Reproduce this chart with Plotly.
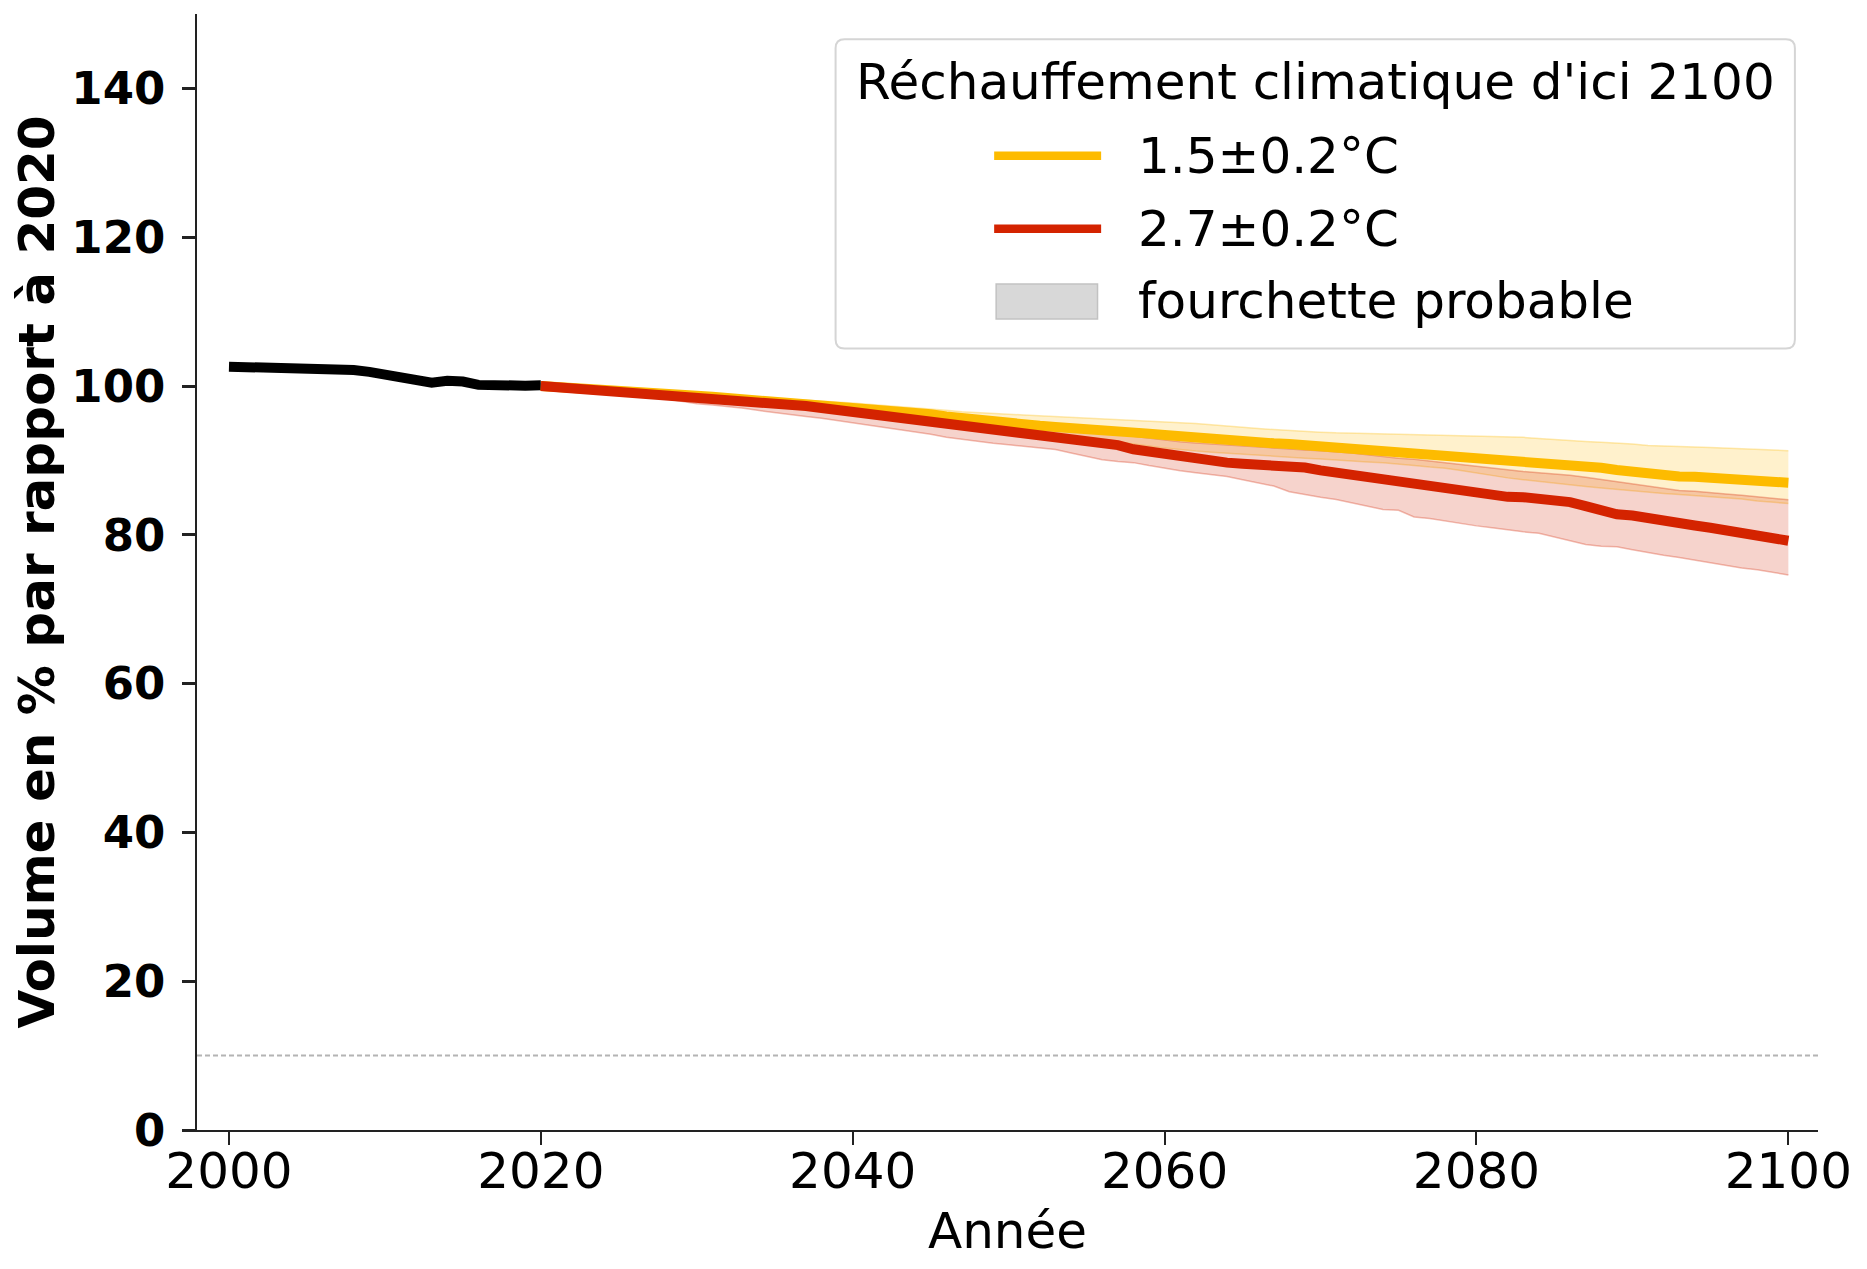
import plotly.graph_objects as go

# ---------------- data ----------------
hist_years = list(range(2000, 2021))
hist_vol = [102.6, 102.55, 102.5, 102.45, 102.35, 102.45, 102.4, 102.4, 102.15, 101.9,
            101.6, 101.35, 101.0, 100.45, 100.7, 100.6, 100.15, 100.05, 100.0, 100.05, 100.1]

proj_years = list(range(2020, 2101))

y15_med = [100.0, 99.9, 99.8, 99.7, 99.6, 99.45, 99.3, 99.15, 99.0, 98.85,
           98.7, 98.55, 98.4, 98.25, 98.1, 97.95, 97.8, 97.65, 97.5, 97.3,
           97.1, 96.95, 96.8, 96.6, 96.4, 96.2, 95.9, 95.65, 95.45, 95.2,
           95.0, 94.8, 94.65, 94.5, 94.4, 94.2, 93.95, 93.85, 93.75, 93.6,
           93.4, 93.2, 93.0, 92.85, 92.7, 92.55, 92.4, 92.3, 92.2, 92.05,
           91.95, 91.8, 91.55, 91.35, 91.15, 90.95, 90.8, 90.65, 90.5, 90.35,
           90.2, 90.05, 89.95, 89.8, 89.65, 89.5, 89.4, 89.2, 89.0, 88.7,
           88.45, 88.2, 88.0, 87.85, 87.8, 87.7, 87.6, 87.5, 87.35, 87.2, 87.0]

y15_low = [100.0, 99.85, 99.7, 99.6, 99.5, 99.3, 99.15, 98.95, 98.8, 98.65,
           98.5, 98.3, 98.15, 98.0, 97.85, 97.7, 97.55, 97.35, 97.15, 96.95,
           96.75, 96.55, 96.35, 96.15, 95.95, 95.7, 95.45, 95.2, 94.95, 94.7,
           94.45, 94.2, 93.85, 93.55, 93.3, 93.0, 92.7, 92.45, 92.2, 91.95,
           91.65, 91.4, 91.25, 91.1, 90.95, 90.8, 90.7, 90.55, 90.4, 90.3,
           90.2, 90.05, 89.95, 89.8, 89.7, 89.55, 89.3, 89.1, 88.95, 88.65,
           88.3, 87.95, 87.65, 87.4, 87.15, 86.95, 86.7, 86.5, 86.3, 86.1,
           85.9, 85.7, 85.55, 85.4, 85.25, 85.15, 84.95, 84.8, 84.55, 84.4, 84.2]

y15_up = [100.0, 99.95, 99.9, 99.8, 99.7, 99.6, 99.5, 99.35, 99.2, 99.1,
          99.0, 98.85, 98.7, 98.6, 98.5, 98.35, 98.2, 98.1, 98.0, 97.85,
          97.7, 97.55, 97.4, 97.25, 97.1, 96.95, 96.75, 96.55, 96.4, 96.3,
          96.2, 96.1, 96.0, 95.9, 95.8, 95.7, 95.6, 95.5, 95.4, 95.3,
          95.2, 95.1, 94.95, 94.8, 94.6, 94.45, 94.3, 94.15, 94.0, 93.9,
          93.8, 93.7, 93.65, 93.6, 93.55, 93.5, 93.45, 93.4, 93.3, 93.25,
          93.2, 93.2, 93.2, 93.1, 92.95, 92.8, 92.65, 92.55, 92.45, 92.35,
          92.2, 92.0, 91.9, 91.85, 91.8, 91.75, 91.65, 91.55, 91.45, 91.4, 91.3]

y27_med = [100.0, 99.85, 99.7, 99.6, 99.5, 99.3, 99.1, 98.9, 98.75, 98.6,
           98.4, 98.2, 98.05, 97.95, 97.8, 97.65, 97.5, 97.3, 97.05, 96.8,
           96.5, 96.3, 96.1, 95.85, 95.6, 95.3, 95.0, 94.75, 94.5, 94.1,
           93.8, 93.6, 93.35, 93.15, 92.9, 92.6, 92.35, 92.05, 91.5, 91.15,
           90.9, 90.65, 90.3, 89.95, 89.7, 89.55, 89.45, 89.4, 89.25, 89.05,
           88.65, 88.35, 88.0, 87.75, 87.55, 87.35, 87.1, 86.8, 86.4, 85.95,
           85.6, 85.3, 85.1, 85.05, 84.85, 84.65, 84.4, 83.85, 83.25, 82.75,
           82.6, 82.2, 81.8, 81.5, 81.25, 80.95, 80.6, 80.2, 79.6, 79.4, 79.2]

y27_low = [100.0, 99.8, 99.6, 99.45, 99.3, 99.1, 98.85, 98.6, 98.3, 97.9,
           97.6, 97.45, 97.25, 97.0, 96.7, 96.4, 96.1, 95.9, 95.65, 95.35,
           95.05, 94.8, 94.5, 94.2, 93.85, 93.5, 93.1, 92.8, 92.55, 92.3,
           92.1, 91.9, 91.65, 91.45, 91.0, 90.5, 90.1, 89.85, 89.7, 89.3,
           88.9, 88.6, 88.35, 88.1, 87.85, 87.4, 86.95, 86.55, 85.8, 85.4,
           85.05, 84.75, 84.3, 83.8, 83.4, 83.3, 82.4, 82.2, 81.85, 81.5,
           81.2, 80.95, 80.65, 80.4, 80.2, 79.7, 79.15, 78.7, 78.45, 78.4,
           78.0, 77.6, 77.25, 76.95, 76.6, 76.25, 75.85, 75.55, 75.3, 74.95, 74.6]

y27_up = [100.0, 99.9, 99.8, 99.7, 99.6, 99.45, 99.3, 99.15, 99.0, 98.85,
          98.7, 98.55, 98.4, 98.3, 98.15, 98.0, 97.85, 97.7, 97.5, 97.3,
          97.1, 96.95, 96.8, 96.65, 96.5, 96.35, 96.15, 95.95, 95.7, 95.45,
          95.2, 94.95, 94.7, 94.45, 94.2, 93.95, 93.7, 93.45, 93.2, 92.95,
          92.7, 92.5, 92.35, 92.2, 92.05, 91.9, 91.75, 91.65, 91.5, 91.4,
          91.3, 91.2, 91.0, 90.75, 90.5, 90.3, 90.15, 89.95, 89.7, 89.45,
          89.2, 88.95, 88.7, 88.5, 88.35, 88.2, 88.0, 87.75, 87.45, 87.1,
          86.8, 86.5, 86.2, 85.95, 85.85, 85.7, 85.5, 85.3, 85.1, 84.9, 84.7]

threshold = 10
y_ticks = [0, 20, 40, 60, 80, 100, 120, 140]
x_ticks = [2000, 2020, 2040, 2060, 2080, 2100]

legend_title = "Réchauffement climatique d'ici 2100"
legend_labels = ["1.5±0.2°C", "2.7±0.2°C", "fourchette probable"]

# ---------------- style ----------------
OFF = 8                      # default page margin around the plot div
W, H = 1867 - 2 * OFF, 1269 - 2 * OFF
ML, MR, MT, MB = 188.7, 41, 6, 130.7
YELLOW = "#FDBB00"
RED = "#D42300"
FONT = "DejaVu Sans"
LW = 10

fig = go.Figure()


def band(years, low, up, rgb):
    fig.add_trace(go.Scatter(x=years, y=low, mode="lines",
                             line=dict(color=f"rgba({rgb},0.3)", width=1.5),
                             showlegend=False, hoverinfo="skip"))
    fig.add_trace(go.Scatter(x=years, y=up, mode="lines", fill="tonexty",
                             fillcolor=f"rgba({rgb},0.2)",
                             line=dict(color=f"rgba({rgb},0.3)", width=1.5),
                             showlegend=False, hoverinfo="skip"))


band(proj_years, y15_low, y15_up, "253,187,0")
band(proj_years, y27_low, y27_up, "212,35,0")

fig.add_trace(go.Scatter(x=hist_years, y=hist_vol, mode="lines",
                         line=dict(color="black", width=LW), showlegend=False))
fig.add_trace(go.Scatter(x=proj_years, y=y15_med, mode="lines",
                         line=dict(color=YELLOW, width=LW), name=legend_labels[0],
                         showlegend=False))
fig.add_trace(go.Scatter(x=proj_years, y=y27_med, mode="lines",
                         line=dict(color=RED, width=LW), name=legend_labels[1],
                         showlegend=False))

fig.add_hline(y=threshold, line=dict(color="#B4B4B4", width=2, dash="5px,3px"))

# ---------------- manual legend (page pixel layout -> paper) ----------------
PW = W - ML - MR
PH = H - MT - MB


def px(x):
    return (x - OFF - ML) / PW


def py(y):
    return (H - MB - (y - OFF)) / PH


bx0, bx1, by0, by1, r = 835.4, 1794.9, 39.3, 348.7, 9
rx, ry = r / PW, r / PH
path = (f"M {px(bx0)+rx},{py(by0)} L {px(bx1)-rx},{py(by0)} "
        f"Q {px(bx1)},{py(by0)} {px(bx1)},{py(by0)-ry} "
        f"L {px(bx1)},{py(by1)+ry} Q {px(bx1)},{py(by1)} {px(bx1)-rx},{py(by1)} "
        f"L {px(bx0)+rx},{py(by1)} Q {px(bx0)},{py(by1)} {px(bx0)},{py(by1)+ry} "
        f"L {px(bx0)},{py(by0)-ry} Q {px(bx0)},{py(by0)} {px(bx0)+rx},{py(by0)} Z")
fig.add_shape(type="path", path=path, xref="paper", yref="paper",
              fillcolor="rgba(255,255,255,0.8)", line=dict(color="#D5D5D5", width=2),
              layer="above")
fig.add_shape(type="line", xref="paper", yref="paper",
              x0=px(994), x1=px(1101), y0=py(155.7), y1=py(155.7),
              line=dict(color=YELLOW, width=8.5), layer="above")
fig.add_shape(type="line", xref="paper", yref="paper",
              x0=px(994), x1=px(1101), y0=py(228.7), y1=py(228.7),
              line=dict(color=RED, width=8.5), layer="above")
fig.add_shape(type="rect", xref="paper", yref="paper",
              x0=px(996), x1=px(1097.4), y0=py(319), y1=py(284),
              fillcolor="#D8D8D8", line=dict(color="#C2C2C2", width=1.5), layer="above")

fig.add_annotation(x=px((bx0 + bx1) / 2), y=py(82.5), xref="paper", yref="paper",
                   text=legend_title, showarrow=False, xanchor="center", yanchor="middle",
                   font=dict(family=FONT, size=50, color="black"))
for lab, yy in zip(legend_labels, [155.8, 229.2, 300.8]):
    fig.add_annotation(x=px(1136), y=py(yy), xref="paper", yref="paper",
                       text=lab, showarrow=False, xanchor="left", yanchor="middle",
                       font=dict(family=FONT, size=50, color="black"))

fig.update_layout(
    width=W, height=H,
    margin=dict(l=ML, r=MR, t=MT, b=MB, autoexpand=False),
    paper_bgcolor="white", plot_bgcolor="white",
    showlegend=False,
    font=dict(family=FONT, color="black"),
)
fig.update_xaxes(
    range=[1997.95, 2101.9], tickvals=x_ticks, ticks="outside", ticklen=12.7, tickwidth=2.2,
    tickcolor="#222", showline=True, linecolor="#222", linewidth=2, showgrid=False,
    zeroline=False, tickfont=dict(family=FONT, size=50, color="black"),
    ticklabelstandoff=-17,
    title=dict(text="Année", font=dict(family=FONT, size=50, color="black"), standoff=14),
)
fig.update_yaxes(
    range=[0, 150], tickvals=y_ticks, ticks="outside", ticklen=12.7, tickwidth=2.5,
    tickcolor="#222", showline=True, linecolor="#222", linewidth=2, showgrid=False,
    zeroline=False, tickfont=dict(family=FONT, size=45, color="black", weight="bold"),
    ticklabelstandoff=8,
    title=dict(text="Volume en % par rapport à 2020",
               font=dict(family=FONT, size=50, color="black", weight="bold"), standoff=6),
)

fig.write_html("out.html")
